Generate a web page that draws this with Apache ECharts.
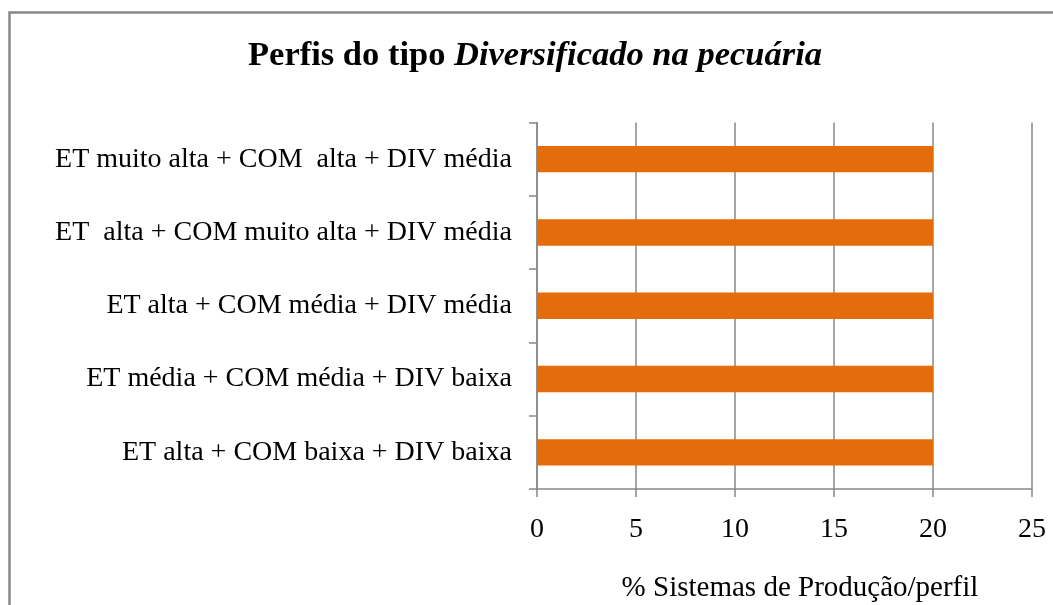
<!DOCTYPE html>
<html>
<head>
<meta charset="utf-8">
<script src="https://cdn.jsdelivr.net/npm/echarts@6/dist/echarts.min.js"></script>
<style>
html,body{margin:0;padding:0;background:#fff;}
#chart{width:1053px;height:605px;}
</style>
</head>
<body>
<div id="chart"></div>
<script>
const categories = [
  'ET muito alta + COM  alta + DIV média',
  'ET  alta + COM muito alta + DIV média',
  'ET alta + COM média + DIV média',
  'ET média + COM média + DIV baixa',
  'ET alta + COM baixa + DIV baixa'
];
const values = [20, 20, 20, 20, 20];
const xTicks = [0, 5, 10, 15, 20, 25];
const titlePlain = 'Perfis do tipo ';
const titleItalic = 'Diversificado na pecuária';
const xAxisTitle = '% Sistemas de Produção/perfil';

const FONT = "'Liberation Serif', 'Times New Roman', serif";
const chart = echarts.init(document.getElementById('chart'), null, {renderer: 'canvas'});
chart.setOption({
  animation: false,
  backgroundColor: '#fff',
  title: {
    text: '{a|' + titlePlain + '}{b|' + titleItalic + '}',
    left: 530,
    textAlign: 'center',
    top: 34,
    textStyle: {
      rich: {
        a: {fontFamily: FONT, fontWeight: 'bold', fontSize: 34.5, color: '#000'},
        b: {fontFamily: FONT, fontWeight: 'bold', fontStyle: 'italic', fontSize: 34.5, color: '#000'}
      }
    }
  },
  grid: {left: 537, right: 21, top: 122.5, bottom: 116, containLabel: false},
  xAxis: {
    type: 'value',
    min: xTicks[0],
    max: xTicks[xTicks.length - 1],
    interval: xTicks[1] - xTicks[0],
    axisLine: {show: true, lineStyle: {color: '#888', width: 1.5}},
    axisTick: {show: true, length: 8, lineStyle: {color: '#888', width: 1.5}},
    splitLine: {show: true, lineStyle: {color: '#888', width: 1.5}},
    axisLabel: {margin: 27, fontFamily: FONT, fontSize: 28, color: '#000'}
  },
  yAxis: {
    type: 'category',
    data: categories,
    inverse: true,
    axisLine: {show: true, lineStyle: {color: '#888', width: 1.5}},
    axisTick: {show: true, length: 8, alignWithLabel: false, lineStyle: {color: '#888', width: 1.5}},
    axisLabel: {margin: 25, fontFamily: FONT, fontSize: 28, color: '#000'}
  },
  series: [{
    type: 'bar',
    data: values,
    barWidth: '36%',
    itemStyle: {color: '#E46C0A'}
  }],
  graphic: [
    {
      type: 'rect',
      shape: {x: 9.5, y: 12.5, width: 1100, height: 700},
      style: {fill: 'none', stroke: '#888', lineWidth: 2.5},
      silent: true
    },
    {
      type: 'text',
      x: 800,
      y: 588,
      style: {
        text: xAxisTitle,
        fontFamily: FONT,
        fontSize: 29,
        fill: '#000',
        textAlign: 'center',
        textVerticalAlign: 'middle'
      }
    }
  ]
});
</script>
</body>
</html>
